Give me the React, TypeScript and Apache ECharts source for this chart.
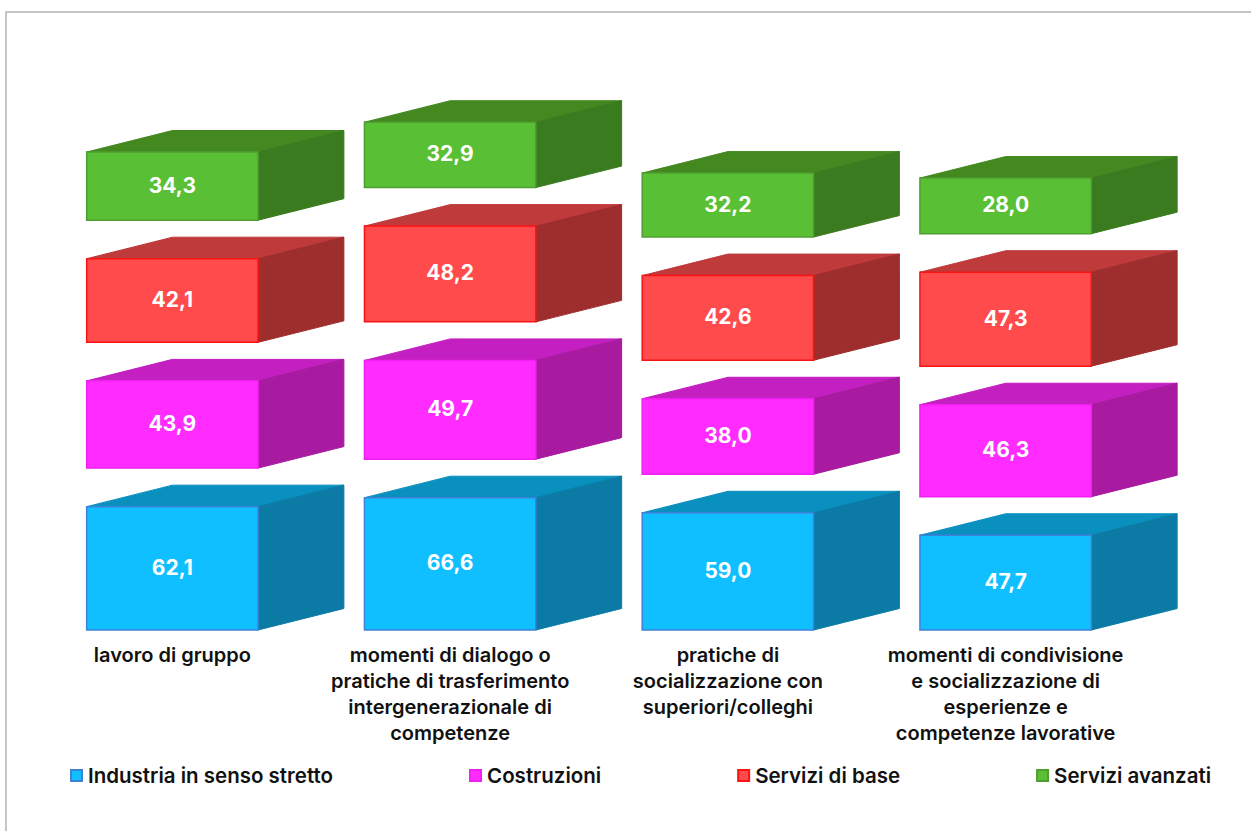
import React, { useEffect, useRef } from "react";
import * as echarts from "echarts";

const categories = [
  "lavoro di gruppo",
  "momenti di dialogo o\npratiche di trasferimento\nintergenerazionale di\ncompetenze",
  "pratiche di\nsocializzazione con\nsuperiori/colleghi",
  "momenti di condivisione\ne socializzazione di\nesperienze e\ncompetenze lavorative",
];

const industria = [62.1, 66.6, 59.0, 47.7];
const costruzioni = [43.9, 49.7, 38.0, 46.3];
const serviziBase = [42.1, 48.2, 42.6, 47.3];
const serviziAvanzati = [34.3, 32.9, 32.2, 28.0];

const seriesNames = ["Industria in senso stretto", "Costruzioni", "Servizi di base", "Servizi avanzati"];
const seriesValues = [industria, costruzioni, serviziBase, serviziAvanzati];

// front, top, side and outline shades of each block
const shades = [
  { front: "#10BFFF", top: "#0A90BF", side: "#0B7BA5", line: "#3F80D8" },
  { front: "#FF2BFF", top: "#C41FC0", side: "#A81AA0", line: "#F020F0" },
  { front: "#FF4B4B", top: "#BF3A3A", side: "#9E2E2E", line: "#FA1414" },
  { front: "#59BF35", top: "#43891F", side: "#3A7B20", line: "#4E9E30" },
];

// empty space left between stacked blocks, in axis units
const STACK_GAP = 19.4;
const FONT = "Inter, sans-serif";

function stackedData(seriesIndex: number) {
  return seriesValues[seriesIndex].map((value, cat) => {
    let base = 0;
    for (let s = 0; s < seriesIndex; s++) base += seriesValues[s][cat] + STACK_GAP;
    return [cat, base, value];
  });
}

function makeRenderItem(seriesIndex: number) {
  const c = shades[seriesIndex];
  return (_params: any, api: any) => {
    const cat = api.value(0);
    const base = api.value(1);
    const value = api.value(2);
    const band = api.size([1, 0])[0];
    const w = band * 0.617;
    const dx = band * 0.309;
    const dy = 21.5;
    const [cx, y0] = api.coord([cat, base]);
    const [, y1] = api.coord([cat, base + value]);
    const l = cx - w / 2;
    const r = cx + w / 2;
    return {
      type: "group",
      children: [
        {
          type: "polygon",
          shape: { points: [[l, y1], [l + dx, y1 - dy], [r + dx, y1 - dy], [r, y1]] },
          style: { fill: c.top, stroke: c.top, lineWidth: 1 },
        },
        {
          type: "polygon",
          shape: { points: [[r, y1], [r + dx, y1 - dy], [r + dx, y0 - dy], [r, y0]] },
          style: { fill: c.side, stroke: c.side, lineWidth: 1 },
        },
        {
          type: "rect",
          shape: { x: l, y: y1, width: w, height: y0 - y1 },
          style: { fill: c.front, stroke: c.line, lineWidth: 1.5 },
        },
        {
          type: "text",
          x: cx,
          y: (y0 + y1) / 2 - 1,
          style: {
            text: value.toFixed(1).replace(".", ","),
            fill: "#FFFFFF",
            font: `700 21px ${FONT}`,
            align: "center",
            verticalAlign: "middle",
          },
        },
      ],
    };
  };
}

export default function App() {
  const ref = useRef<HTMLDivElement>(null);

  useEffect(() => {
    const chart = echarts.init(ref.current!, undefined, { renderer: "svg" });
    chart.setOption({
      animation: false,
      backgroundColor: "#FFFFFF",
      graphic: [
        {
          type: "rect",
          silent: true,
          shape: { x: 6, y: 12, width: 1400, height: 1000 },
          style: { fill: "none", stroke: "#B4B4B4", lineWidth: 1.5 },
        },
      ],
      grid: { left: 33.5, right: 106.5, top: 34, bottom: 201 },
      xAxis: {
        type: "category",
        data: categories,
        axisLine: { show: false },
        axisTick: { show: false },
        axisLabel: {
          interval: 0,
          margin: 12,
          color: "#111111",
          fontFamily: FONT,
          fontSize: 20,
          fontWeight: 600,
          lineHeight: 26,
        },
      },
      yAxis: { type: "value", min: 0, max: 300, show: false, splitLine: { show: false } },
      legend: {
        left: 62,
        top: 765,
        icon: "rect",
        itemWidth: 11,
        itemHeight: 11,
        itemGap: 136,
        padding: [0, 0, 0, 8],
        textStyle: { color: "#111111", fontFamily: FONT, fontSize: 20.5, fontWeight: 600, padding: [0, 0, 0, 1] },
        data: seriesNames,
      },
      series: seriesNames.map((name, i) => ({
        type: "custom",
        name,
        clip: false,
        silent: true,
        coordinateSystem: "cartesian2d",
        encode: { x: 0, y: 1 },
        itemStyle: { color: shades[i].front, borderColor: shades[i].line, borderWidth: 1 },
        renderItem: makeRenderItem(i),
        data: stackedData(i),
      })),
    });
    return () => chart.dispose();
  }, []);

  return <div ref={ref} style={{ position: "fixed", left: 0, top: 0, width: 1251, height: 831 }} />;
}
